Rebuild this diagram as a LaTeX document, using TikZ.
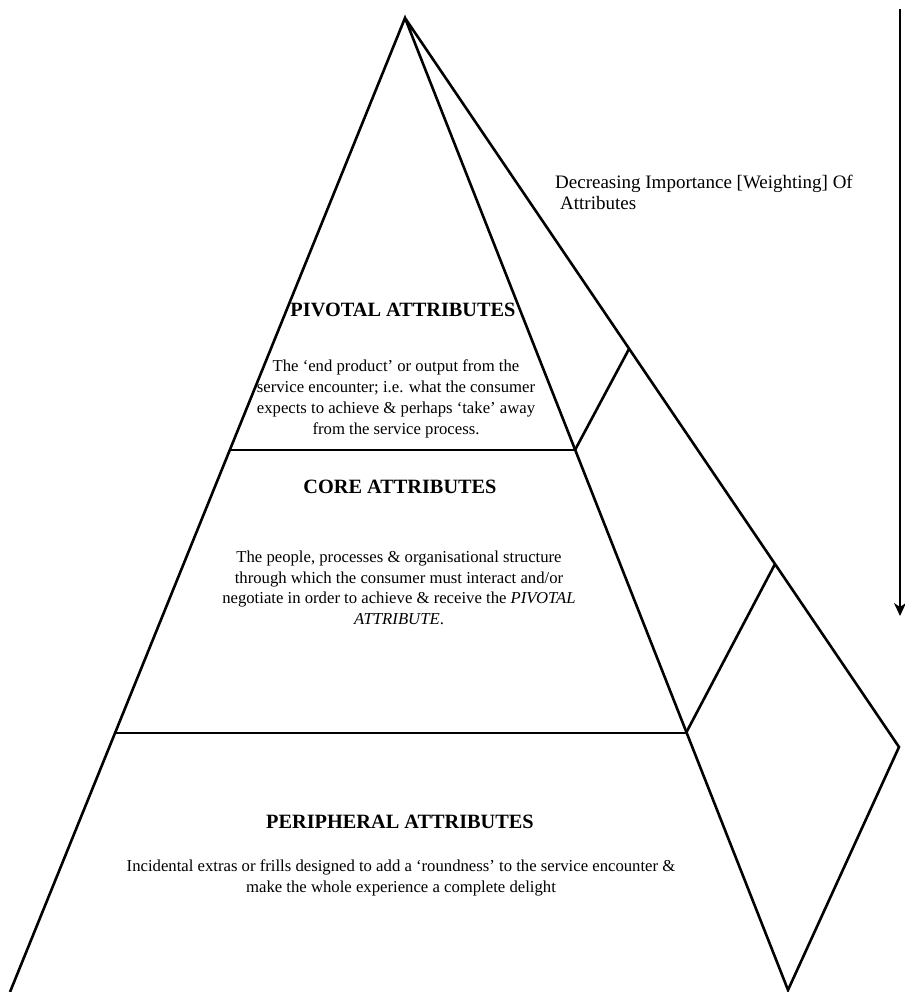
\documentclass[tikz,border=0pt]{standalone}
\usepackage{fontspec}
\setmainfont{Liberation Serif}
\usetikzlibrary{arrows.meta}
\begin{document}
\begin{tikzpicture}[x=1pt,y=-1pt,
  edge/.style={line width=2.6pt, line join=miter},
  tier/.style={line width=2.4pt},
  heading/.style={font=\fontsize{20.3}{24}\selectfont\bfseries, inner sep=0pt},
  body/.style={font=\fontsize{16.7}{20.5}\selectfont, align=center, inner sep=0pt},
]
\useasboundingbox (0,0) rectangle (904,992);

% corners of the pyramid
\coordinate (apex)  at (405,18);
\coordinate (baseL) at (10,992);
\coordinate (baseR) at (788,990);
\coordinate (pivL)  at (230,450);
\coordinate (pivR)  at (575,450);
\coordinate (coreL) at (115,733);
\coordinate (coreR) at (686,733);
\coordinate (backA) at (629,349);
\coordinate (backB) at (775,564);
\coordinate (backC) at (899,747);

% outline, side face and tier dividers
\draw[edge] (baseL) -- (apex) -- (baseR) -- (backC) -- (backB) -- (apex);
\draw[edge] (pivR) -- (backA);
\draw[edge] (coreR) -- (backB);
\draw[tier] (pivL) -- (pivR);
\draw[tier] (coreL) -- (coreR);

% importance arrow
\coordinate (arrTop) at (900,9);
\coordinate (arrTip) at (900,616);
\draw[line width=2pt, -{Stealth[length=13pt,width=12pt,inset=4pt]}] (arrTop) -- (arrTip);
\node[font=\fontsize{19}{21}\selectfont, align=left, anchor=west, inner sep=0pt] (arrLabel) at (555,192)
  {Decreasing Importance [Weighting] Of\\\hspace*{5pt}Attributes};

% tier texts
\node[heading] (pivT) at (403,310) {PIVOTAL ATTRIBUTES};
\node[body, font=\fontsize{16.7}{21}\selectfont] (pivB) at (396,399)
  {The ‘end product’ or output from the\\
   service encounter; i.e. what the consumer\\
   expects to achieve \& perhaps ‘take’ away\\
   from the service process.};

\node[heading] (coreT) at (400,487) {CORE ATTRIBUTES};
\node[body] (coreB) at (399,588)
  {The people, processes \& organisational structure\\
   through which the consumer must interact and/or\\
   negotiate in order to achieve \& receive the \textit{PIVOTAL}\\
   \textit{ATTRIBUTE}.};

\node[heading] (perT) at (400,822) {PERIPHERAL ATTRIBUTES};
\node[body] (perB) at (401,878)
  {Incidental extras or frills designed to add a ‘roundness’ to the service encounter \&\\
   make the whole experience a complete delight};
\end{tikzpicture}
\end{document}
